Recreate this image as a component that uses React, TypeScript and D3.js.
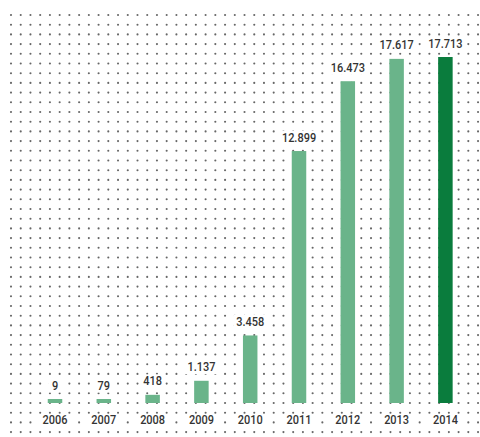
import React from "react";
import * as d3 from "d3";

const years = ["2006", "2007", "2008", "2009", "2010", "2011", "2012", "2013", "2014"];
const values = [9, 79, 418, 1137, 3458, 12899, 16473, 17617, 17713];
const highlightYear = "2014";

const W = 480;
const H = 437;

const locale = d3.formatLocale({ decimal: ",", thousands: ".", grouping: [3], currency: ["", ""] });
const fmt = locale.format(",d");

export default function App() {
  const x = d3.scalePoint<string>().domain(years).range([30.6, 469.8]).padding(0.5);
  const y = d3.scaleLinear().domain([0, d3.max(values) as number]).range([403, 57]);
  const barW = 14.5;

  const cols = d3.range(49).map((i) => 11 + i * 9.73);
  const rows = d3.range(44).map((j) => 15 + j * 9.7);

  const font = "Roboto, 'Noto Sans', sans-serif";
  const sx = 0.9;
  const fs = 12.2;

  const textW = (s: string, size: number) => {
    let w = 0;
    for (const c of s) w += c === "." ? 0.27 * size : 0.562 * size;
    return w * sx;
  };

  return (
    <svg width={W} height={H} style={{ position: "absolute", left: 0, top: 0, background: "#fff" }}>
      <rect width={W} height={H} fill="#fff" />
      <g>
        {rows.map((ry, j) =>
          cols.map((cx, i) => <circle key={`${i}-${j}`} cx={cx} cy={ry} r={1.05} fill="#666" />)
        )}
      </g>
      <g>
        {years.map((yr, i) => {
          const cx = x(yr) as number;
          const top = Math.min(y(values[i]), y(0) - 4);
          const color = yr === highlightYear ? "#0a7c3d" : "#6ab48a";
          const label = fmt(values[i]);
          const lw = textW(label, fs);
          const base = top - 9.5;
          return (
            <g key={yr}>
              <rect x={cx - barW / 2} y={top} width={barW} height={y(0) - top} fill={color} />
              <rect x={cx - lw / 2 - 3} y={base - 11} width={lw + 6} height={14} fill="#fff" />
              <text
                transform={`translate(${cx},${base}) scale(${sx},1)`}
                textAnchor="middle"
                fontFamily={font}
                fontWeight={500}
                fontSize={fs}
                fill="#333"
              >
                {label}
              </text>
              <rect x={cx - 18} y={415} width={36} height={13} fill="#fff" />
              <text
                transform={`translate(${cx},424.3) scale(${sx},1)`}
                textAnchor="middle"
                fontFamily={font}
                fontWeight={500}
                fontSize={fs}
                fill="#333"
              >
                {yr}
              </text>
            </g>
          );
        })}
      </g>
    </svg>
  );
}
